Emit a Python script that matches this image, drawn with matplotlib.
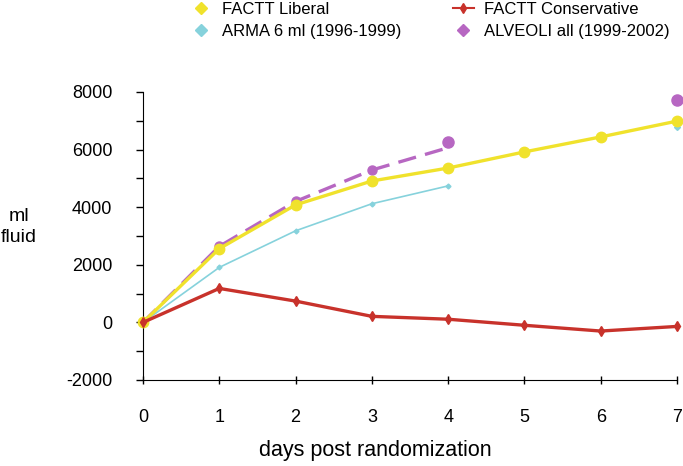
import matplotlib
matplotlib.use('Agg')
import matplotlib.pyplot as plt
from matplotlib.lines import Line2D
from matplotlib.ticker import MultipleLocator

plt.rcParams['font.family'] = ['Liberation Sans', 'DejaVu Sans']
plt.rcParams['axes.unicode_minus'] = False

days = [0, 1, 2, 3, 4, 5, 6, 7]
liberal = [0, 2560, 4080, 4910, 5360, 5920, 6440, 6990]
conservative = [0, 1180, 740, 210, 110, -100, -300, -140]
arma_days = [0, 1, 2, 3, 4]
arma = [0, 1910, 3180, 4120, 4740]
arma_late_day = [7]
arma_late = [6800]
alveoli_days = [0, 1, 2, 3, 4]
alveoli = [0, 2640, 4200, 5290, 6260]
alveoli_late_day = [7]
alveoli_late = [7720]

c_yellow = '#f0e22c'
c_red = '#c8322b'
c_cyan = '#86d2dc'
c_purple = '#b767c2'

fig = plt.figure(figsize=(6.83, 4.66), dpi=100)
ax = fig.add_axes([143 / 683, 86 / 466, 534 / 683, 288 / 466])

dash = (0, (5.5, 2.8))
ax.plot(alveoli_days[:4], alveoli[:4], color=c_purple, lw=2.4, ls=dash,
        marker='o', ms=6.5, markevery=[1, 2, 3], zorder=2, clip_on=False)
ax.plot(alveoli_days[3:], [alveoli[3], alveoli[3] + 0.8 * (alveoli[4] - alveoli[3])],
        color=c_purple, lw=2.4, ls=dash, zorder=2)
ax.plot(alveoli_days[4:], alveoli[4:], ls='none', color=c_purple, marker='o', ms=8,
        zorder=5, clip_on=False)
ax.plot(alveoli_late_day, alveoli_late, ls='none', color=c_purple, marker='o', ms=8,
        zorder=5, clip_on=False)

ax.plot(arma_days, arma, color=c_cyan, lw=1.2, marker='D', ms=2.5, zorder=3, clip_on=False)
ax.plot(arma_late_day, arma_late, ls='none', color=c_cyan, marker='D', ms=3, zorder=3,
        clip_on=False)

ax.plot(days, liberal, color=c_yellow, lw=2.4, marker='o', ms=7.5, zorder=4, clip_on=False)
ax.plot(days, conservative, color=c_red, lw=2.4, marker='d', ms=5, zorder=4, clip_on=False)

ax.set_xlim(0, 7)
ax.set_ylim(-2000, 8000)
ax.spines['top'].set_visible(False)
ax.spines['right'].set_visible(False)
ax.yaxis.set_major_locator(MultipleLocator(2000))
ax.yaxis.set_minor_locator(MultipleLocator(1000))
ax.xaxis.set_major_locator(MultipleLocator(1))
ax.tick_params(axis='y', which='both', direction='out', length=5, width=1,
               labelsize=13, pad=17)
ax.tick_params(axis='x', direction='inout', length=6, width=1, labelsize=13, pad=18)
ax.set_xlabel('days post randomization', fontsize=15.5)
ax.xaxis.set_label_coords((375 - 143) / 534, -(440 - 380) / 288)
fig.text(19 / 683, 1 - 227 / 466, 'ml\nfluid', fontsize=14, ha='center', va='center',
         multialignment='center', linespacing=1.35)

handles1 = [
    Line2D([], [], ls='none', marker='D', ms=6.5, color=c_yellow),
    Line2D([], [], ls='none', marker='D', ms=6.5, color=c_cyan),
]
handles2 = [
    Line2D([], [], color=c_red, lw=1.5, marker='d', ms=5),
    Line2D([], [], ls='none', marker='D', ms=6.5, color=c_purple),
]
leg_kw = dict(loc='upper left', frameon=False, fontsize=12, handlelength=1.25,
              handletextpad=0.6, labelspacing=0.42, borderaxespad=0.0, borderpad=0.0)
fig.legend(handles1, ['FACTT Liberal', 'ARMA 6 ml (1996-1999)'],
           bbox_to_anchor=(191 / 683, 1 - 2 / 466), **leg_kw)
fig.legend(handles2, ['FACTT Conservative', 'ALVEOLI all (1999-2002)'],
           bbox_to_anchor=(453 / 683, 1 - 2 / 466), **leg_kw)

fig.savefig('out.png', dpi=100)
